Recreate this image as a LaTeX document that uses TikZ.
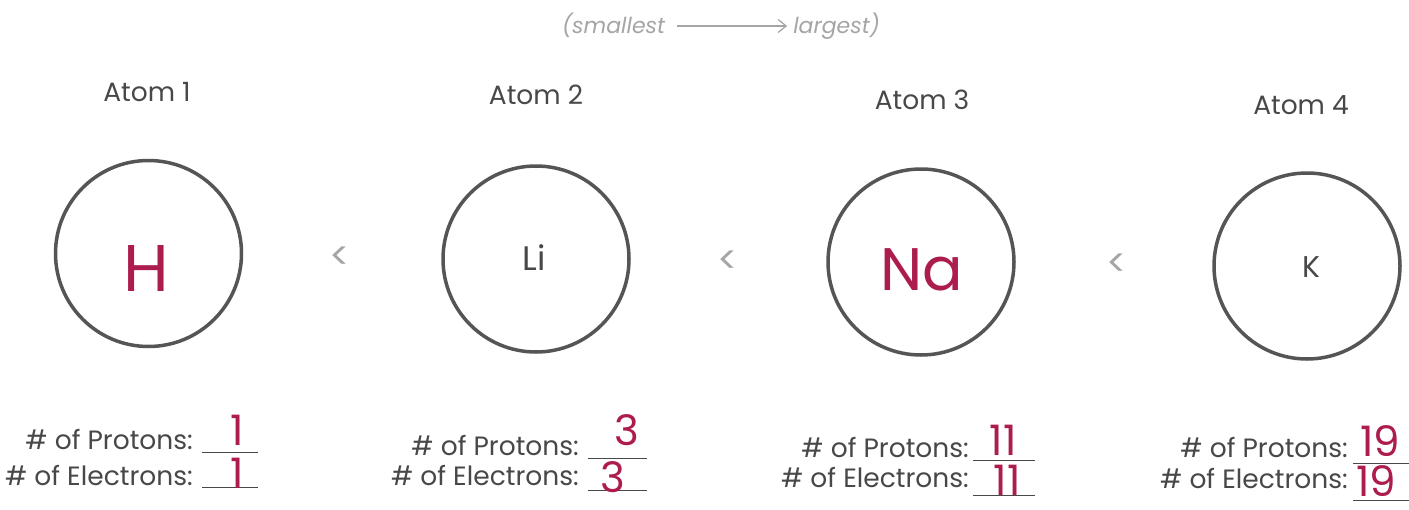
\documentclass[tikz,border=0pt]{standalone}
\usepackage{fontspec}
\setmainfont{Poppins}
\usetikzlibrary{arrows.meta}
\definecolor{ink}{RGB}{72,72,72}
\definecolor{ring}{RGB}{85,85,85}
\definecolor{light}{RGB}{165,165,165}
\definecolor{pen}{RGB}{172,28,78}
\tikzset{
  atom/.style={circle, draw=ring, line width=3.5pt, minimum size=186pt, inner sep=0pt},
  head/.style={text=ink, font=\fontsize{26.5}{30}\selectfont, inner sep=0pt},
  lbl/.style={text=ink, font=\fontsize{26.5}{30}\selectfont, anchor=base east, inner sep=0pt},
  elem/.style={text=ink, font=\fontsize{34}{38}\selectfont, inner sep=0pt},
  hand/.style={text=pen, font=\fontsize{42}{46}\selectfont, inner sep=0pt},
  bighand/.style={text=pen, font=\fontsize{66}{72}\selectfont, inner sep=0pt},
  less/.style={text=light, font=\fontsize{38}{40}\selectfont, inner sep=0pt},
  titletext/.style={text=light, font=\itshape\fontsize{22}{26}\selectfont, inner sep=0pt, anchor=base},
  blank/.style={draw=ink, line width=0.9pt}
}
\begin{document}
\begin{tikzpicture}[x=1pt,y=-1pt]
\useasboundingbox[fill=white] (0,0) rectangle (1409,509);

% title
\node[titletext, anchor=base west] (small) at (562,33) {(smallest};
\node[titletext, anchor=base east] (large) at (880,33) {largest)};
\draw[light, line width=1.2pt, -{Straight Barb[length=8pt,width=13pt]}] ([xshift=12pt,yshift=7pt]small.base east) -- ([xshift=-6pt,yshift=7pt]large.base west);

% headings
\node[head] (h1) at (147,92) {Atom 1};
\node[head] (h2) at (536,95) {Atom 2};
\node[head] (h3) at (922,100) {Atom 3};
\node[head] (h4) at (1301,105) {Atom 4};

% atoms
\node[atom] (a1) at (148.5,253.5) {};
\node[atom] (a2) at (536,259) {};
\node[atom] (a3) at (921,262) {};
\node[atom] (a4) at (1307,266) {};

\node[bighand] (e1) at (146,268) {H};
\node[elem] (e2) at (534,258) {Li};
\node[elem, font=\fontsize{30}{34}\selectfont] (e4) at (1311,267) {K};
\node[bighand, font=\fontsize{60}{66}\selectfont] (e3) at (922,270) {Na};

% less-than signs
\node[less] (l1) at (340,258) {<};
\node[less] (l2) at (728,262) {<};
\node[less] (l3) at (1117,265) {<};

% labels atom 1
\node[lbl] (p1) at (193,449) {\# of Protons:};
\node[lbl] (n1) at (193,485) {\# of Electrons:};
\coordinate (p1a) at (202,452); \coordinate (p1b) at (258,452);
\coordinate (n1a) at (202,487); \coordinate (n1b) at (258,487);
\draw[blank] (p1a) -- (p1b);
\draw[blank] (n1a) -- (n1b);
\node[hand] (vp1) at (237,430) {1};
\node[hand] (vn1) at (237,473) {1};

% labels atom 2
\node[lbl] (p2) at (579,455) {\# of Protons:};
\node[lbl] (n2) at (579,485) {\# of Electrons:};
\coordinate (p2a) at (588,458); \coordinate (p2b) at (647,458);
\coordinate (n2a) at (588,490); \coordinate (n2b) at (647,490);
\draw[blank] (p2a) -- (p2b);
\draw[blank] (n2a) -- (n2b);
\node[hand] (vp2) at (627,430) {3};
\node[hand] (vn2) at (613,477) {3};

% labels atom 3
\node[lbl] (p3) at (969,457) {\# of Protons:};
\node[lbl] (n3) at (969,487) {\# of Electrons:};
\coordinate (p3a) at (973,460); \coordinate (p3b) at (1035,460);
\coordinate (n3a) at (973,495); \coordinate (n3b) at (1035,495);
\draw[blank] (p3a) -- (p3b);
\draw[blank] (n3a) -- (n3b);
\node[hand] (vp3) at (1003,440) {11};
\node[hand] (vn3) at (1007,480) {11};

% labels atom 4
\node[lbl] (p4) at (1348,457) {\# of Protons:};
\node[lbl] (n4) at (1348,488) {\# of Electrons:};
\coordinate (p4a) at (1353,463); \coordinate (p4b) at (1409,463);
\coordinate (n4a) at (1353,500); \coordinate (n4b) at (1409,500);
\draw[blank] (p4a) -- (p4b);
\draw[blank] (n4a) -- (n4b);
\node[hand] (vp4) at (1380,441) {19};
\node[hand] (vn4) at (1376,481) {19};
\end{tikzpicture}
\end{document}
